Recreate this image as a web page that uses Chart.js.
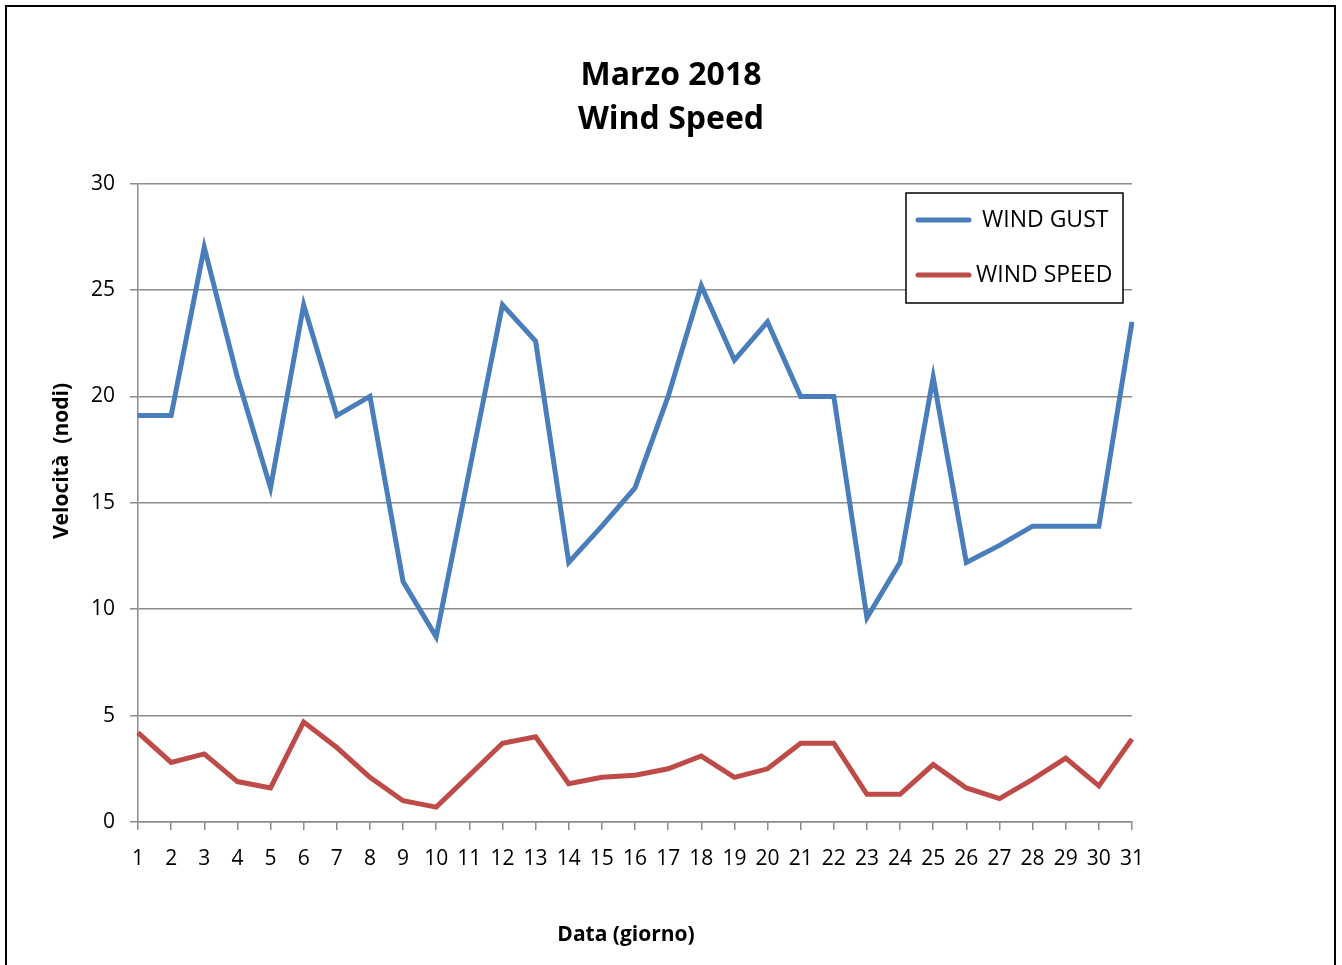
<!DOCTYPE html>
<html>
<head>
<meta charset="utf-8">
<script src="https://cdn.jsdelivr.net/npm/chart.js@4.4.1/dist/chart.umd.min.js"></script>
<style>
  html, body { margin: 0; padding: 0; background: #fff; overflow: hidden; }
  #frame { position: absolute; left: 5px; top: 5px; width: 1331px; height: 980px; border: 2px solid #000; box-sizing: border-box; }
  #wind { position: absolute; left: 0; top: 0; }
</style>
</head>
<body>
<div id="frame"></div>
<canvas id="wind" width="1342" height="965"></canvas>
<script>
// dati marzo 2018
const GIORNI = Array.from({length: 31}, (_, i) => String(i + 1));
const WIND_GUST = [19.1, 19.1, 27.0, 20.9, 15.7, 24.3, 19.1, 20.0, 11.3, 8.7,
                   16.5, 24.3, 22.6, 12.2, 13.9, 15.7, 20.0, 25.2, 21.7, 23.5,
                   20.0, 20.0, 9.6, 12.2, 20.9, 12.2, 13.0, 13.9, 13.9, 13.9, 23.5];
const WIND_SPEED = [4.2, 2.8, 3.2, 1.9, 1.6, 4.7, 3.5, 2.1, 1.0, 0.7,
                    2.2, 3.7, 4.0, 1.8, 2.1, 2.2, 2.5, 3.1, 2.1, 2.5,
                    3.7, 3.7, 1.3, 1.3, 2.7, 1.6, 1.1, 2.0, 3.0, 1.7, 3.9];
const Y_TICKS = [0, 5, 10, 15, 20, 25, 30];
const X_TITLE = 'Data (giorno)';
const Y_TITLE = 'Velocità  (nodi)';

const FONT = "'Open Sans', 'Noto Sans', sans-serif";
const GRID = '#8c8c8c';

// legenda e titoli assi disegnati a mano (posizioni come in Excel)
const extras = {
  id: 'extras',
  afterDraw(chart) {
    const ctx = chart.ctx;
    ctx.save();

    // titoli assi
    ctx.fillStyle = '#000';
    ctx.font = 'bold 21px ' + FONT;
    ctx.textAlign = 'center';
    ctx.textBaseline = 'middle';
    ctx.fillText(X_TITLE, 626, 935);
    ctx.save();
    ctx.translate(62, 461);
    ctx.rotate(-Math.PI / 2);
    ctx.fillText(Y_TITLE, 0, 0);
    ctx.restore();

    // legenda
    const x = 906, y = 193, w = 217, h = 110;
    ctx.fillStyle = '#fff';
    ctx.fillRect(x, y, w, h);
    ctx.strokeStyle = '#000';
    ctx.lineWidth = 1.5;
    ctx.strokeRect(x, y, w, h);
    ctx.font = '23px ' + FONT;
    ctx.textAlign = 'left';
    ctx.fillStyle = '#000';
    const rows = [[220, 982], [275, 976]];
    chart.data.datasets.forEach((ds, i) => {
      const [ly, tx] = rows[i];
      ctx.strokeStyle = ds.borderColor;
      ctx.lineWidth = 5;
      ctx.lineCap = 'round';
      ctx.beginPath();
      ctx.moveTo(918, ly);
      ctx.lineTo(969, ly);
      ctx.stroke();
      ctx.fillText(ds.label, tx, ly);
    });
    ctx.restore();
  }
};

new Chart(document.getElementById('wind'), {
  type: 'line',
  data: {
    labels: GIORNI,
    datasets: [{
      label: 'WIND GUST',
      data: WIND_GUST,
      borderColor: '#4a7ebb',
      borderWidth: 5,
      pointRadius: 0,
      tension: 0
    }, {
      label: 'WIND SPEED',
      data: WIND_SPEED,
      borderColor: '#be4b48',
      borderWidth: 5,
      pointRadius: 0,
      tension: 0
    }]
  },
  options: {
    responsive: false,
    animation: false,
    layout: { padding: { left: 0, right: 0, top: 0, bottom: 0 } },
    plugins: {
      legend: { display: false },
      tooltip: { enabled: false },
      title: {
        display: true,
        text: ['Marzo 2018', 'Wind Speed'],
        color: '#000',
        font: { family: FONT, size: 32, weight: 'bold', lineHeight: 1.4 },
        padding: { top: 53, bottom: 41 }
      }
    },
    scales: {
      x: {
        offset: false,
        afterFit: (s) => { s.height = 143; },
        grid: { drawOnChartArea: false, drawTicks: true, tickLength: 8, color: GRID, lineWidth: 1.5 },
        border: { color: GRID, width: 1.5 },
        ticks: { color: '#000', font: { family: FONT, size: 21 }, padding: 16, maxRotation: 0, autoSkip: false }
      },
      y: {
        min: 0,
        max: 30,
        afterFit: (s) => { s.width = 138; },
        afterBuildTicks: (s) => { s.ticks = Y_TICKS.map(v => ({ value: v })); },
        grid: { color: GRID, lineWidth: 1.5, tickLength: 8 },
        border: { color: GRID, width: 1.5 },
        ticks: { color: '#000', font: { family: FONT, size: 21 }, padding: 15 }
      },
      // asse vuoto a destra: solo spazio bianco
      spazio: {
        type: 'linear',
        position: 'right',
        afterFit: (s) => { s.width = 210; },
        grid: { display: false },
        border: { display: false },
        ticks: { display: false }
      }
    }
  },
  plugins: [extras]
});
</script>
</body>
</html>
